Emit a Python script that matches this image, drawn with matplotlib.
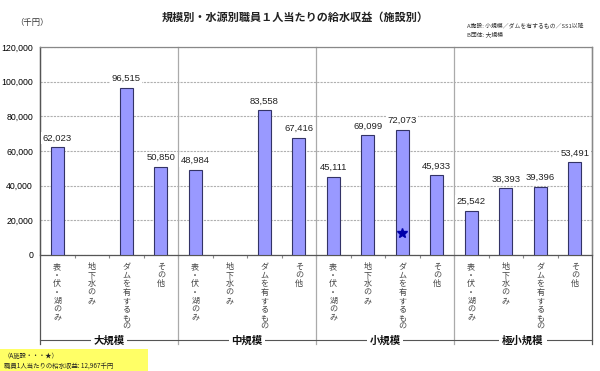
import matplotlib.pyplot as plt
import numpy as np
from matplotlib.patches import Rectangle

plt.rcParams['font.family'] = ['Noto Sans CJK JP', 'DejaVu Sans']
num_font = ['Liberation Sans', 'DejaVu Sans']

groups = ['大規模', '中規模', '小規模', '極小規模']
sources = ['表・伏・湖のみ', '地下水のみ', 'ダムを有するもの', 'その他']
# revenue per employee (thousand yen); None = no data
values = [
    [62023, None, 96515, 50850],
    [48984, None, 83558, 67416],
    [45111, 69099, 72073, 45933],
    [25542, 38393, 39396, 53491],
]
star_group = 2
star_source = 2
star_value = 12967

fig = plt.figure(figsize=(6, 3.71), dpi=100)
ax = fig.add_axes([40 / 600, 1 - 255 / 371, 552 / 600, 208 / 371])

bar_color = '#9999FF'
edge = '#333366'
line_grey = '#888888'

n = len(sources)
for g, row in enumerate(values):
    for s, v in enumerate(row):
        if v is None:
            continue
        x = g * n + s + 0.5
        ax.bar(x, v, width=0.38, color=bar_color, edgecolor=edge, linewidth=0.8, zorder=3)
        ax.text(x, v + 2800, f'{v:,}', ha='center', va='bottom', fontsize=6.8,
                family=num_font, color='#222222', zorder=4,
                bbox=dict(facecolor='white', edgecolor='none', pad=1))

ax.plot(star_group * n + star_source + 0.5, star_value, marker='*', color='#0000AA',
        markersize=7, zorder=5)

ax.set_xlim(0, 16)
ax.set_ylim(0, 120000)
ticks = np.arange(0, 120001, 20000)
ax.set_yticks(ticks)
ax.set_yticklabels([f'{t:,}' for t in ticks], fontsize=6.3, family=num_font)
ax.tick_params(axis='y', length=0, pad=5)
ax.set_xticks(np.arange(0, 17))
ax.set_xticklabels([])
ax.tick_params(axis='x', length=2, color=line_grey, direction='out')
ax.yaxis.grid(True, color='#b0b0b0', linestyle=(0, (2, 1)), linewidth=0.8, zorder=0)
ax.set_axisbelow(True)

for sp in ax.spines.values():
    sp.set_color(line_grey)
    sp.set_linewidth(0.9)
ax.spines['left'].set_color('#555555')
ax.spines['bottom'].set_color('#555555')

# category labels (vertical text)
for g in range(len(groups)):
    for s, name in enumerate(sources):
        x = g * n + s + 0.5
        ax.text(x, -0.035, '\n'.join(name), transform=ax.get_xaxis_transform(),
                ha='center', va='top', fontsize=5.8, linespacing=0.92, color='#444444')

# group dividers and group labels
y_line = -0.41
for b in range(0, 17, 4):
    col = '#555555' if b in (0, 16) else '#aaaaaa'
    ax.plot([b, b], [1, y_line - 0.02], transform=ax.get_xaxis_transform(),
            color=col, linewidth=0.9, clip_on=False, zorder=2)
ax.plot([0, 16], [y_line, y_line], transform=ax.get_xaxis_transform(),
        color='#555555', linewidth=0.8, clip_on=False)
for g, name in enumerate(groups):
    ax.text(g * n + 2, y_line, name, transform=ax.get_xaxis_transform(),
            ha='center', va='center', fontsize=7.5, fontweight='bold', color='#111111',
            bbox=dict(facecolor='white', edgecolor='none', pad=2))

fig.text(295 / 600, 1 - 17 / 371, '規模別・水源別職員１人当たりの給水収益（施設別）',
         ha='center', va='center', fontsize=8, fontweight='bold', color='#222222')
fig.text(32 / 600, 1 - 23 / 371, '（千円）', ha='center', va='center', fontsize=6,
         color='#333333')
fig.text(467 / 600, 1 - 30 / 371, 'A施設: 小規模／ダムを有するもの／SS1以降\nB団体: 大規模',
         ha='left', va='center', fontsize=4.2, linespacing=1.3, color='#333333')

fig.add_artist(Rectangle((0, 0), 148 / 600, 22 / 371, transform=fig.transFigure,
                         facecolor='#FFFF66', edgecolor='none'))
fig.text(4 / 600, 1 - 352 / 371, '（A施設・・・★）\n職員1人当たりの給水収益: 12,967千円',
         ha='left', va='top', fontsize=4.6, linespacing=1.35, color='#222222')

fig.savefig('out.png', dpi=100)
